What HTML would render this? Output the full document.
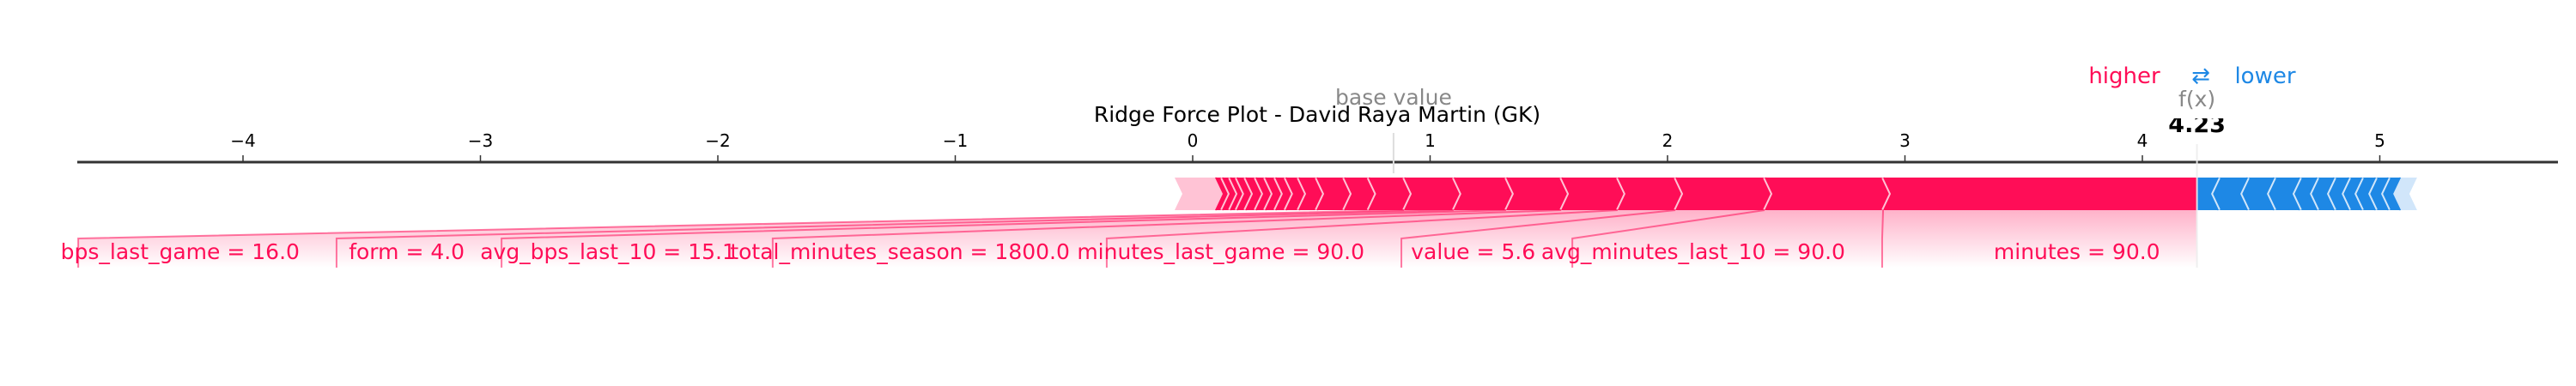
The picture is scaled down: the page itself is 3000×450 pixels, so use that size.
<!DOCTYPE html>
<html><head><meta charset="utf-8"><style>
html,body{margin:0;padding:0;background:#fff;}
svg{display:block;font-family:"DejaVu Sans","Liberation Sans",sans-serif;}
</style></head><body>
<svg id="chart" width="3000" height="450" viewBox="0 0 3000 450" xmlns="http://www.w3.org/2000/svg">
<defs>
<linearGradient id="pinkfade" x1="0" y1="0" x2="0" y2="1">
<stop offset="0" stop-color="#ff0d57" stop-opacity="0.32"/>
<stop offset="1" stop-color="#ff0d57" stop-opacity="0"/>
</linearGradient>
<clipPath id="fxclip"><rect x="0" y="138" width="3000" height="40"/></clipPath>
</defs>
<g id="marks"></g>
</svg>
<script>
const baseValue = 0.846;
const fx = 4.23;
const tickValues = [-4,-3,-2,-1,0,1,2,3,4,5];
const tickLabels = ["\u22124","\u22123","\u22122","\u22121","0","1","2","3","4","5"];
// positive contributions, ordered from f(x) leftwards
const posValues = [1.322,0.499,0.376,0.243,0.238,0.232,0.221,0.209,0.150,0.103,0.116,0.076,0.055,0.043,0.043,0.040,0.043,0.037,0.028,0.033,0.029,0.170];
// negative contributions, ordered from f(x) rightwards
const negValues = [0.092,0.123,0.112,0.108,0.073,0.072,0.062,0.054,0.058,0.054,0.051,0.068];
const labelNames = ["minutes = 90.0","avg_minutes_last_10 = 90.0","value = 5.6","minutes_last_game = 90.0","total_minutes_season = 1800.0","avg_bps_last_10 = 15.1","form = 4.0","bps_last_game = 16.0"];
const labelBoxLeft = [2.904,1.599,0.879,-0.362,-1.769,-2.911,-3.606,-4.694];

const X0 = 1389, UNIT = 276.5;
const xs = v => X0 + v*UNIT;
const TOP = 207, BOT = 245, MID = (TOP+BOT)/2, W = 9;
const NS = "http://www.w3.org/2000/svg";
const g = document.getElementById('marks');
function mk(tag, attrs, parent){const e=document.createElementNS(NS,tag);for(const k in attrs)e.setAttribute(k,attrs[k]);(parent||g).appendChild(e);return e;}

const axis = mk('line',{x1:90,y1:189,x2:2979,y2:189,stroke:'#333',"stroke-width":3});


tickValues.forEach((t,i)=>{
  const tk = mk('line',{x1:xs(t),x2:xs(t),y1:181,y2:189,stroke:'#333',"stroke-width":1.5});
  
  
  const tl = mk('text',{x:xs(t),y:171,"text-anchor":"middle","font-size":20,fill:'#000'});
  tl.textContent = tickLabels[i];
  
  
});

const bl = mk('line',{x1:xs(baseValue),x2:xs(baseValue),y1:155,y2:202,stroke:'#ddd',"stroke-width":2});



let bounds=[fx]; let cur=fx;
posValues.forEach(v=>{cur-=v;bounds.push(cur);});
labelNames.forEach((name,i)=>{
  const s=bounds[i+1], e=bounds[i];
  const bxL = xs(labelBoxLeft[i]);
  const bxR = i===0 ? xs(fx) : xs(labelBoxLeft[i-1]);
  const poly = mk('polygon',{points:`${xs(s)},${BOT} ${xs(e)},${BOT} ${bxR},278 ${bxR},312 ${bxL},312 ${bxL},278`,fill:'url(#pinkfade)'});
  
  
});
for(let i=posValues.length-1;i>=0;i--){
  const e=xs(bounds[i]), s=xs(bounds[i+1]);
  const last = i===posValues.length-1;
  const tipR = i===0 ? `${e},${TOP} ${e},${BOT}` : `${e},${TOP} ${e+W},${MID} ${e},${BOT}`;
  const p = mk('polygon',{points:`${s},${TOP} ${tipR} ${s},${BOT} ${s+W},${MID}`,fill: last?'#ffc3d5':'#ff0d57'});
  
  
  if(i>0){
    const sep = mk('polyline',{points:`${e},${TOP} ${e+W},${MID} ${e},${BOT}`,fill:'none',stroke:'#ffc3d5',"stroke-width":4});
    
    
  }
}
let nb=[fx]; cur=fx;
negValues.forEach(v=>{cur+=v;nb.push(cur);});
for(let i=negValues.length-1;i>=0;i--){
  const s=xs(nb[i]), e=xs(nb[i+1]);
  const last = i===negValues.length-1;
  const left = i===0 ? `${s},${BOT} ${s},${TOP}` : `${s},${BOT} ${s-W},${MID} ${s},${TOP}`;
  const p = mk('polygon',{points:`${left} ${e},${TOP} ${e-W},${MID} ${e},${BOT}`,fill: last?'#d1e6fa':'#1e88e5'});
  
  
  if(i>0){
    const sep = mk('polyline',{points:`${s},${TOP} ${s-W},${MID} ${s},${BOT}`,fill:'none',stroke:'#d1e6fa',"stroke-width":4});
    
    
  }
}
const fl = mk('line',{x1:xs(fx),x2:xs(fx),y1:168,y2:312,stroke:'#eee',"stroke-width":2,opacity:0.9});


labelNames.forEach((name,i)=>{
  const s=bounds[i+1];
  const bxL = xs(labelBoxLeft[i]);
  const bxR = i===0 ? xs(fx) : xs(labelBoxLeft[i-1]);
  const ln = mk('polyline',{points:`${xs(s)},${BOT} ${bxL},278 ${bxL},312`,fill:'none',stroke:'#ff0d57',"stroke-opacity":0.55,"stroke-width":2});
  
  
  const t = mk('text',{x:bxR-43,y:302,"text-anchor":"end","font-size":25,fill:'#ff0d57'});
  t.textContent = name;
  
  
});

function txt(s,attrs,name){const t=mk('text',attrs);t.textContent=s;return t;}
txt('base value',{x:xs(baseValue),y:122,"text-anchor":"middle","font-size":25,fill:'#888'},'base-value-label');
txt('Ridge Force Plot - David Raya Martin (GK)',{x:1534,y:142,"text-anchor":"middle","font-size":25,fill:'#000'},'chart-title');
txt('f(x)',{x:xs(fx),y:124,"text-anchor":"middle","font-size":25,fill:'#888'},'fx-label');
txt(fx.toFixed(2),{x:xs(fx),y:154,"text-anchor":"middle","font-size":27,"font-weight":"bold",fill:'#000',"clip-path":"url(#fxclip)"},'fx-value');
txt('higher',{x:2474,y:97,"text-anchor":"middle","font-size":26,fill:'#ff0d57'},'legend-higher');
txt('\u21c4',{x:2563,y:97,"text-anchor":"middle","font-size":26,fill:'#1e88e5'},'legend-arrows');
txt('lower',{x:2638,y:97,"text-anchor":"middle","font-size":26,fill:'#1e88e5'},'legend-lower');
</script>
</body></html>
